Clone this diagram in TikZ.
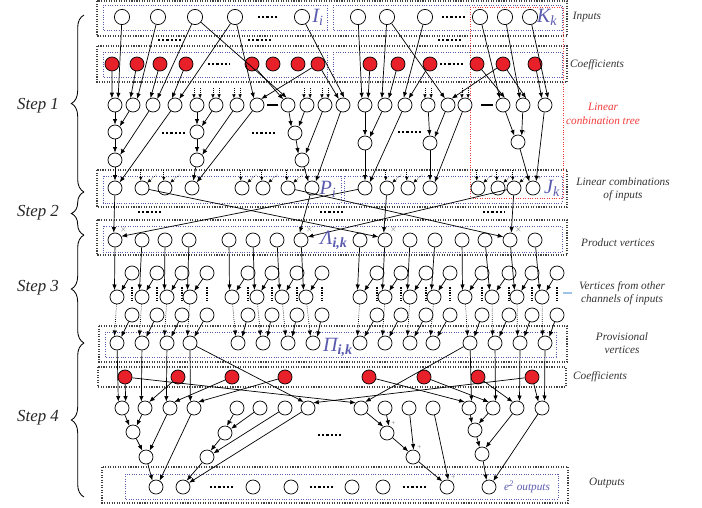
\documentclass[tikz,border=0pt]{standalone}
\usepackage{fontspec}
\setmainfont{Liberation Serif}
\usetikzlibrary{positioning,arrows.meta,calc,decorations.pathreplacing}
\definecolor{coefred}{HTML}{E8202A}
\definecolor{setblue}{HTML}{5A5AAE}
\definecolor{treered}{HTML}{F23A3A}
\definecolor{chanblue}{HTML}{9DC3E6}
\tikzset{
  vtx/.style={circle, draw, line width=0.5pt, minimum size=0.35cm, inner sep=0pt, fill=white},
  inp/.style={vtx, minimum size=0.38cm},
  coef/.style={vtx, fill=coefred},
  plain/.style={},
  flow/.style={-{Latex[length=1.4mm,width=1.1mm]}, line width=0.5pt},
  dflow/.style={flow, densely dotted},
  stub/.style={-{Latex[length=1mm,width=0.9mm]}, densely dotted, line width=0.45pt},
  plus/.style={font=\tiny, text=black!55, inner sep=0.5pt},
  sum/.style={label={[plus]62:+}},
  prod/.style={label={[plus]60:$\times$}},
  outer/.style={draw=black!75, densely dotted, line width=0.8pt},
  inner/.style={draw=setblue, densely dotted, line width=0.7pt},
  side/.style={font=\footnotesize\itshape, align=center, text=black!80},
  setname/.style={font=\Large\itshape, text=setblue, inner sep=0pt},
  steplbl/.style={font=\large\itshape, text=black!85},
  more/.style={line width=1.2pt, dash pattern=on 1.6pt off 1.4pt},
  bar/.style={line width=1.5pt},
  brc/.style={decorate, decoration={brace, amplitude=9pt}, line width=0.6pt},
}
\begin{document}
\begin{tikzpicture}[x=0.025cm, y=-0.025cm]
\useasboundingbox (0,0) rectangle (702,507);

% layer boxes
\draw[outer] (97,1) rectangle (567,36);
\draw[outer] (97,46) rectangle (567,82);
\draw[outer] (97,170) rectangle (567,207);
\draw[outer] (97,220) rectangle (567,255);
\draw[outer] (99,326) rectangle (567,362);
\draw[outer] (98,367) rectangle (566,387);
\draw[outer] (102,467) rectangle (568,503);
\draw[inner] (103,5) rectangle (327,30);
\draw[inner] (333,5) rectangle (562,30);
\draw[inner] (103,52) rectangle (327,77);
\draw[inner] (333,52) rectangle (562,77);
\draw[inner] (103,176) rectangle (341,203);
\draw[inner] (344,176) rectangle (562,203);
\draw[inner] (103,226) rectangle (562,252);
\draw[inner] (105,332) rectangle (556,357);
\draw[inner] (125,474) rectangle (558,499);
\draw[treered, densely dotted, line width=0.7pt] (470,7) rectangle (563,198);

% omitted vertices
\draw[more] (258,17) -- (278,17);  \draw[more] (442,17) -- (466,17);
\draw[more] (158,40) -- (182,40);  \draw[more] (248,40) -- (272,40);
\draw[more] (438,40) -- (462,40);
\draw[more] (208,64) -- (230,64);  \draw[more] (440,64) -- (463,64);
\draw[more] (162,133) -- (185,133); \draw[more] (252,133) -- (276,133);
\draw[more] (398,132) -- (422,132);
\draw[more] (138,212) -- (162,212); \draw[more] (320,212) -- (345,212);
\draw[more] (483,212) -- (505,212);
\draw[more] (318,435) -- (343,435);
\draw[more] (210,487) -- (235,487); \draw[more] (310,487) -- (335,487);
\draw[more] (403,487) -- (427,487);

% step 1: inputs, coefficients, tree
\foreach \n/\x in {1/122,2/158,3/195,4/235,5/302,6/358,7/387,8/425,9/480,10/505,11/530}
  \node[inp] (in\n) at (\x,17) {};
\foreach \n/\x in {1/112,2/137,3/160,4/186,5/252,6/273,7/298,8/318,9/370,10/398,11/430,12/477,13/503,14/535}
  \node[coef] (cf\n) at (\x,64) {};
\foreach \n/\x in {1/115,2/133,3/153,4/175,5/197,6/216,7/237,8/257,9/288,10/307,11/325,12/343,13/365,14/385,15/405,16/428,17/448,18/465,19/503,20/523,21/545}
  \node[vtx] (t\n) at (\x,105) {};
\draw[bar, shorten <=2pt, shorten >=2pt] (t8) -- (t9);
\draw[bar] (481,105) -- (493,105);
\node[vtx,sum] (u1) at (115,132) {};
\node[vtx,sum] (u2) at (115,160) {};
\node[vtx,sum] (u3) at (197,132) {};
\node[vtx,sum] (u4) at (197,160) {};
\node[vtx,sum] (u5) at (295,133) {};
\node[vtx,sum] (u6) at (302,160) {};
\node[vtx,sum] (u7) at (365,143) {};
\node[vtx,sum] (u8) at (430,143) {};
\node[vtx,sum] (u9) at (518,142) {};
\foreach \n/\x/\s in {1/115/sum,2/142/plain,3/165/plain,4/192/sum,5/242/plain,6/263/plain,7/288/plain,8/312/sum,9/365/sum,10/387/plain,11/408/plain,12/430/sum,13/478/plain,14/498/plain,15/514/plain,16/533/sum}
  \node[vtx,\s] (l\n) at (\x,188) {};

\foreach \a/\b in {cf1/t1.115, in1/t1.65, cf2/t2.110, in2/t2.55, cf3/t3.110, in3/t3.55,
    cf4/t4.115, in4/t4.55, in4/t8.115, cf8/t8.55, cf5/t9.130, in3/t9.100,
    cf8/t12.125, in5/t12.80, in6/t13.115, cf9/t13.65, in7/t14.115, cf10/t14.60,
    in8/t15.100, cf11/t15.60, in7/t17.115, cf13/t17.60, in9/t19.115, cf12/t19.75,
    in10/t20.115, cf13/t20.65, cf14/t21.115, in11/t21.65}
  \draw[flow] (\a) -- (\b);
\foreach \m in {t5,t6,t7,t10,t11,t16,t18} {
  \draw[stub] (\m.115) ++(0,-10) -- (\m.115);
  \draw[stub] (\m.65) ++(0,-10) -- (\m.65);
}
\foreach \a/\b in {t1/u1, t2/u1.50, u1/u2, t3/u2.45, u2/l1, t4/l1.50,
    t5/u3, t6/u3.50, u3/u4, t7/u4.45, u4/l4, t8/l4.50,
    t9/u5.120, t10/u5.60, u5/u6.120, t11/u6.60, u6/l8.120, t12/l8.60,
    t13/u7, t14/u7.50, u7/l9, t15/l9.50,
    t16/u8, t17/u8.50, u8/l12, t18/l12.50,
    t19/u9.120, t20/u9.60, u9/l16.120, t21/l16.65}
  \draw[flow] (\a) -- (\b);
\foreach \m in {l2,l3,l5,l6,l7,l10,l11,l13,l14,l15} {
  \draw[stub] (\m.100) ++(0,-11) -- (\m.100);
  \draw[stub] (\m.45) ++(9,-8) -- (\m.45);
}

% step 2: products
\foreach \n/\x/\s in {1/115/prod,2/142/plain,3/165/plain,4/189/plain,5/229/plain,6/253/plain,7/277/plain,8/301/prod,9/360/plain,10/385/prod,11/410/plain,12/435/plain,13/462/plain,14/485/plain,15/510/prod,16/535/plain}
  \node[vtx,\s] (p\n) at (\x,240) {};
\foreach \a/\b in {l1/p1.100, l9/p1.30, l8/p8.100, l15/p8.25, l10/p10.100, l2/p10.155,
    l15/p15.80, l7/p15.155}
  \draw[flow] (\a) -- (\b);

% step 3: other channels, provisional vertices
\foreach \n/\bx/\cx/\ex in {1/117/132/117, 2/142/157/142, 3/167/182/167, 4/190/207/190,
    5/232/248/238, 6/257/272/263, 7/282/297/288, 8/306/322/313,
    9/360/377/360, 10/385/401/385, 11/410/426/410, 12/434/450/433,
    13/465/482/470, 14/492/509/495, 15/517/532/520, 16/542/557/545} {
  \node[vtx,sum] (b\n) at (\bx,297) {};
  \node[vtx] (c\n) at (\cx,273) {};
  \node[vtx] (d\n) at (\cx,315) {};
  \node[vtx,sum] (e\n) at (\ex,343) {};
  \draw[flow] (p\n) -- (b\n.110);
  \draw[flow] (c\n) -- (b\n.55);
  \draw[dflow] (b\n) -- (e\n.110);
  \draw[flow] (d\n) -- (e\n.55);
  \draw[densely dotted, line width=0.8pt, shorten <=5pt, shorten >=4pt] (c\n) -- (d\n);
}

% step 4: coefficients, sum trees, outputs
\foreach \n/\x in {1/125,2/178,3/232,4/285,5/369,6/424,7/478,8/532}
  \node[coef] (cg\n) at (\x,377) {};
\foreach \n/\x in {1/122,2/145,3/170,4/194,5/237,6/260,7/285,8/308,9/361,10/385,11/409,12/433,13/469,14/493,15/517,16/542}
  \node[vtx] (v\n) at (\x,408) {};
\node[vtx,sum] (w1) at (133,432) {};
\node[vtx,sum] (w2) at (146,457) {};
\node[vtx,sum] (w3) at (225,433) {};
\node[vtx,sum] (w4) at (207,457) {};
\node[vtx,sum] (w5) at (387,433) {};
\node[vtx,sum] (w6) at (413,457) {};
\node[vtx,sum] (w7) at (475,430) {};
\node[vtx,sum] (w8) at (482,454) {};
\foreach \n/\x/\s in {1/156/sum,2/183/sum,3/253/plain,4/291/plain,5/352/plain,6/383/plain,7/447/sum,8/489/sum}
  \node[vtx,\s] (o\n) at (\x,487) {};

\foreach \a/\b in {e1/v1.120, cg1/v1.60, e2/v2.120, cg2/v2.55, e3/v3.120, cg3/v3.55,
    e4/v4.120, cg4/v4.55, e4/v8.125, cg8/v8.45, cg1/v9.135, e13/v9.55,
    cg5/v13.125, e13/v13.70, cg6/v14.125, e14/v14.70, cg7/v15.125, e15/v15.70,
    cg8/v16.120, e16/v16.70,
    v1/w1.120, v2/w1.60, w1/w2.120, v3/w2.60, w2/o1.120, v4/o1.60,
    v5/w3.75, v6/w3.35, w3/w4.60, v7/w4.30, w4/o2.60, v8/o2.35,
    v9/w5.120, v10/w5.75, w5/w6.130, v11/w6.85, w6/o7.130, v12/o7.80,
    v13/w7.115, v14/w7.60, w7/w8.110, v15/w8.60, w8/o8.110, v16/o8.55}
  \draw[flow] (\a) -- (\b);

% set names
\node[setname] (nI) at (318,17) {I\textsubscript{i}};
\node[setname] (nK) at (547,17) {K\textsubscript{k}};
\node[setname] (nP) at (328,189) {P\textsubscript{i}};
\node[setname] (nJ) at (552,188) {J\textsubscript{k}};
\node[setname] (nL) at (334,240) {Λ\textsubscript{\bfseries i,k}};
\node[setname] (nPi) at (338,347) {Π\textsubscript{\bfseries i,k}};
\node[setname, font=\footnotesize\itshape] (nO) at (527,487) {e\textsuperscript{2} outputs};

% layer names
\node[side] (tIn) at (587,17) {Inputs};
\node[side] (tCf) at (597,65) {Coefficients};
\node[side, text=treered] (tTree) at (603,114) {Linear\\conbination tree};
\node[side] (tLc) at (623,189) {Linear combinations\\of inputs};
\node[side] (tPv) at (618,243) {Product vertices};
\node[side] (tVo) at (622,293) {Vertices from other\\channels of inputs};
\node[side] (tProv) at (622,343) {Provisional\\vertices};
\node[side] (tCf2) at (600,377) {Coefficients};
\node[side] (tOut) at (607,483) {Outputs};
\draw[chanblue, line width=0.9pt] (563,293) -- (572,293);

% steps
\draw[brc] (84,192) -- (84,15);
\draw[brc] (84,235) -- (84,192);
\draw[brc] (84,343) -- (84,235);
\draw[brc] (84,497) -- (84,343);
\node[steplbl] (s1) at (38,106) {Step 1};
\node[steplbl] (s2) at (38,213) {Step 2};
\node[steplbl] (s3) at (38,288) {Step 3};
\node[steplbl] (s4) at (38,418) {Step 4};
\end{tikzpicture}
\end{document}
